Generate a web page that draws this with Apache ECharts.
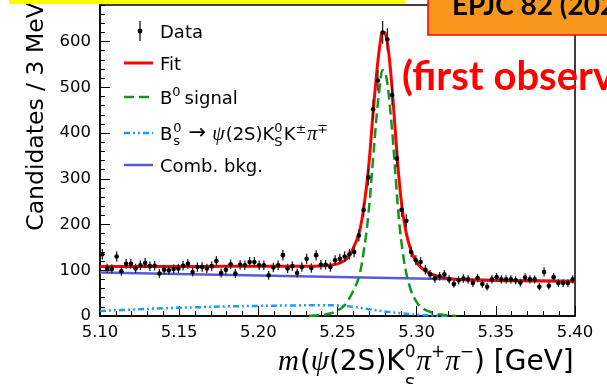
<!DOCTYPE html>
<html><head><meta charset="utf-8">
<script src="https://cdn.jsdelivr.net/npm/echarts@6/dist/echarts.min.js"></script>
<style>html,body{margin:0;padding:0;background:#fff;overflow:hidden}#c{width:607px;height:384px}</style>
</head><body><div id="c"></div>
<script>
// ---- data ----
const binLow = 5.10, binWidth = 0.003;
const counts = [135,104,103,130,98,114,114,104,111,116,
 109,110,93,101,100,103,104,110,114,96,
 107,107,104,109,120,94,101,113,93,112,
 111,118,118,111,111,89,106,111,133,104,
 109,94,107,125,105,133,112,112,107,122,
 125,130,135,140,176,232,303,452,515,620,
 605,483,344,232,208,140,122,118,101,91,
 82,87,91,80,70,78,82,80,72,83,
 70,64,80,85,80,80,80,78,73,84,
 80,80,64,96,66,85,72,72,72,80];
const countErrors = [11.6,10.2,10.1,11.4,9.9,10.7,10.7,10.2,10.5,10.8,
 10.4,10.5,9.6,10.0,10.0,10.1,10.2,10.5,10.7,9.8,
 10.3,10.3,10.2,10.4,11.0,9.7,10.0,10.6,9.6,10.6,
 10.5,10.9,10.9,10.5,10.5,9.4,10.3,10.5,11.5,10.2,
 10.4,9.7,10.3,11.2,10.2,11.5,10.6,10.6,10.3,11.0,
 11.2,11.4,11.6,11.8,13.3,15.2,17.4,21.3,22.7,24.9,
 24.6,22.0,18.5,15.2,14.4,11.8,11.0,10.9,10.0,9.5,
 9.1,9.3,9.5,8.9,8.4,8.8,9.1,8.9,8.5,9.1,
 8.4,8.0,8.9,9.2,8.9,8.9,8.9,8.8,8.5,9.2,
 8.9,8.9,8.0,9.8,8.1,9.2,8.5,8.5,8.5,8.9];
const fitCurve = [[5.100,108],[5.140,108],[5.180,109],[5.215,109],[5.235,109],[5.245,111],[5.250,114],[5.2535,119],[5.2565,128],[5.2595,145],[5.2635,180],[5.2665,235],[5.2695,320],[5.2725,445],[5.275,540],[5.277,598],[5.2785,621],[5.280,619],[5.2815,597],[5.283,555],[5.285,475],[5.287,380],[5.289,295],[5.291,232],[5.2935,180],[5.2965,142],[5.2995,120],[5.3025,107],[5.307,96],[5.312,88],[5.318,83],[5.326,80],[5.340,78],[5.365,77],[5.400,76]];
const signalCurve = [[5.232,0],[5.240,2],[5.246,6],[5.250,12],[5.2535,20],[5.2565,33],[5.2595,52],[5.2635,85],[5.2665,140],[5.2695,222],[5.2725,345],[5.275,448],[5.277,510],[5.2785,538],[5.280,533],[5.2815,508],[5.283,462],[5.285,385],[5.287,290],[5.289,205],[5.291,145],[5.2935,93],[5.2965,55],[5.2995,33],[5.3025,20],[5.307,11],[5.312,5],[5.318,2],[5.325,0]];
const bsCurve = [[5.100,11],[5.120,14],[5.140,17],[5.160,19],[5.180,21],[5.200,22],[5.220,23],[5.240,23.5],[5.250,23],[5.260,20],[5.270,15],[5.280,10],[5.290,6],[5.300,3],[5.310,1],[5.320,0]];
const combCurve = [[5.10,95],[5.20,88.5],[5.30,82],[5.40,76]];
const xRange = [5.10, 5.40], xMajor = 0.05, xMinor = 0.01;
const yRange = [0, 680], yMajor = 100, yMinor = 20;
const yTitle = 'Candidates / 3 MeV';
const legendLabels = ['Data','Fit','signal','Comb. bkg.'];

// ---- helpers for composed math text ----
const mctx = document.createElement('canvas').getContext('2d');
const SANS='"DejaVu Sans"', SERIF='"Liberation Serif"', LATO='Lato';
function fontStr(p){ return (p.it?'italic ':'') + (p.b?'bold ':'') + p.s + 'px ' + (p.f||SANS); }
function midOff(font){ mctx.font=font; mctx.textBaseline='middle'; return mctx.measureText('H').actualBoundingBoxDescent; }
function tw(t,font){ mctx.font=font; mctx.textBaseline='alphabetic'; return mctx.measureText(t).width; }
function mathText(pieces, x0, base, z){
  let x=x0, pend=0; const els=[];
  for(const p of pieces){
    const font=fontStr(p), w=tw(p.t,font);
    els.push({type:'text', silent:true, z:z||50, x:x+(p.dx||0), y:base+(p.dy||0)-midOff(font),
      style:{text:p.t, font:font, fill:p.c||'#000', align:'left', verticalAlign:'middle'}});
    if(p.stack){ pend=w; } else { x += Math.max(w,pend)+(p.sp||0); pend=0; }
  }
  return els;
}

const chart = echarts.init(document.getElementById('c'), null, {renderer:'canvas'});
const dataPts = counts.map((v,i)=>[binLow+(i+0.5)*binWidth, v, countErrors[i]]);

const graphics = [];
// slide decorations
graphics.push({type:'rect', silent:true, z:60, shape:{x:9,y:0,width:396,height:4}, style:{fill:'#ffff00'}});
graphics.push({type:'rect', silent:true, z:60, shape:{x:428,y:-5,width:190,height:40}, style:{fill:'#f7981d', stroke:'#ff0000', lineWidth:1.5}});
graphics.push(...mathText([{t:'EPJC 82 (2022)', s:28, b:true, f:LATO}], 452, 15, 61));
graphics.push(...mathText([{t:'(first observation)', s:40, b:true, f:LATO, c:'#ff0000'}], 402, 90, 61));
// y title
const ytFont = '23.5px '+SANS;
graphics.push({type:'text', silent:true, z:50, x:43.2-midOff(ytFont), y:116.5, rotation:Math.PI/2,
  style:{text:yTitle, font:ytFont, fill:'#000', align:'center', verticalAlign:'middle'}});
// x title
graphics.push(...mathText([
  {t:'m', s:29, it:true, f:SERIF, sp:1},
  {t:'(', s:28},
  {t:'ψ', s:29, it:true, f:SERIF},
  {t:'(2S)K', s:28},
  {t:'0', s:17, dy:-13, stack:true},
  {t:'S', s:17, dy:20, sp:1},
  {t:'π', s:29, it:true, f:SERIF},
  {t:'+', s:17, dy:-13},
  {t:'π', s:29, it:true, f:SERIF},
  {t:'−', s:17, dy:-13},
  {t:') [GeV]', s:28}
], 278, 370));
// legend
const LX0=124, LX1=153, TX=160;
graphics.push({type:'line', silent:true, z:50, shape:{x1:140,y1:21,x2:140,y2:41}, style:{stroke:'#000',lineWidth:1.2}});
graphics.push({type:'circle', silent:true, z:50, shape:{cx:140,cy:31,r:2.4}, style:{fill:'#000'}});
graphics.push(...mathText([{t:legendLabels[0], s:18}], TX, 37.5));
graphics.push({type:'line', silent:true, z:50, shape:{x1:LX0,y1:63,x2:LX1,y2:63}, style:{stroke:'#ff0000',lineWidth:3}});
graphics.push(...mathText([{t:legendLabels[1], s:18}], TX, 69.5));
graphics.push({type:'line', silent:true, z:50, shape:{x1:LX0,y1:97,x2:LX1,y2:97}, style:{stroke:'#12961a',lineWidth:2.5,lineDash:[10,5]}});
graphics.push(...mathText([{t:'B', s:18},{t:'0', s:13, dy:-8, sp:4},{t:legendLabels[2], s:18}], TX, 103.5));
graphics.push({type:'line', silent:true, z:50, shape:{x1:LX0,y1:133,x2:LX1,y2:133}, style:{stroke:'#1a9bff',lineWidth:2.5,lineDash:[6,3,2,3,2,3]}});
graphics.push(...mathText([
  {t:'B', s:18, sp:1},{t:'0', s:13, dy:-8, stack:true},{t:'s', s:13, dy:5, sp:7},
  {t:'→', s:21, dy:-1, sp:6},
  {t:'ψ', s:20, it:true, f:SERIF, sp:1},
  {t:'(2S)K', s:18},{t:'0', s:13, dy:-8, stack:true},{t:'S', s:13, dy:6, sp:1},
  {t:'K', s:18},{t:'±', s:13, dy:-7, sp:1},
  {t:'π', s:20, it:true, f:SERIF},{t:'∓', s:13, dy:-7}
], TX, 139.5));
graphics.push({type:'line', silent:true, z:50, shape:{x1:LX0,y1:165,x2:LX1,y2:165}, style:{stroke:'#5a5ad8',lineWidth:2.5}});
graphics.push(...mathText([{t:legendLabels[3], s:18}], TX, 171.5));

const axisLbl = {fontSize:16.5, color:'#000', fontFamily:'DejaVu Sans'};
chart.setOption({
  animation:false,
  backgroundColor:'#fff',
  textStyle:{fontFamily:'DejaVu Sans'},
  grid:{left:100, right:32, top:5, bottom:68, show:true, borderColor:'#000', borderWidth:1.5, backgroundColor:'transparent'},
  xAxis:[
    {type:'value', min:xRange[0], max:xRange[1], interval:xMajor,
     axisLine:{lineStyle:{color:'#000',width:1.5}},
     axisTick:{inside:true,length:10,lineStyle:{color:'#000',width:1}},
     axisLabel:Object.assign({margin:8, formatter:v=>v.toFixed(2)}, axisLbl),
     splitLine:{show:false}},
    {type:'value', position:'bottom', min:xRange[0], max:xRange[1], interval:xMinor,
     axisLine:{show:false}, axisTick:{inside:true,length:5,lineStyle:{color:'#000',width:1}},
     axisLabel:{show:false}, splitLine:{show:false}}
  ],
  yAxis:[
    {type:'value', min:yRange[0], max:yRange[1], interval:yMajor,
     axisLine:{show:true,lineStyle:{color:'#000',width:1.5}},
     axisTick:{show:true,inside:true,length:10,lineStyle:{color:'#000',width:1}},
     axisLabel:Object.assign({margin:9, showMaxLabel:false}, axisLbl),
     splitLine:{show:false}},
    {type:'value', position:'left', min:yRange[0], max:yRange[1], interval:yMinor,
     axisLine:{show:false}, axisTick:{show:true,inside:true,length:5,lineStyle:{color:'#000',width:1}},
     axisLabel:{show:false}, splitLine:{show:false}}
  ],
  series:[
    {type:'line', name:'Comb. bkg.', data:combCurve, showSymbol:false, smooth:0.3, z:2,
     lineStyle:{color:'#5a5ad8', width:2.5}},
    {type:'line', name:'Bs', data:bsCurve, showSymbol:false, smooth:0.4, z:3,
     lineStyle:{color:'#1a9bff', width:2.5, type:[6,3,2,3,2,3]}},
    {type:'line', name:'B0 signal', data:signalCurve, showSymbol:false, smooth:0.4, z:4,
     lineStyle:{color:'#12961a', width:2.5, type:[10,5]}},
    {type:'line', name:'Fit', data:fitCurve, showSymbol:false, smooth:0.4, z:5,
     lineStyle:{color:'#ff0000', width:3}},
    {type:'custom', name:'Data', data:dataPts, z:10, encode:{x:0,y:1},
     renderItem:function(params, api){
       const x=api.value(0), y=api.value(1), e=api.value(2);
       const p=api.coord([x,y]), t=api.coord([x,y+e]), b=api.coord([x,y-e]);
       return {type:'group', children:[
         {type:'line', shape:{x1:p[0],y1:t[1],x2:p[0],y2:b[1]}, style:{stroke:'#222',lineWidth:1.3}},
         {type:'circle', shape:{cx:p[0],cy:p[1],r:2.3}, style:{fill:'#000'}}
       ]};
     }}
  ],
  graphic:graphics
});
</script></body></html>
